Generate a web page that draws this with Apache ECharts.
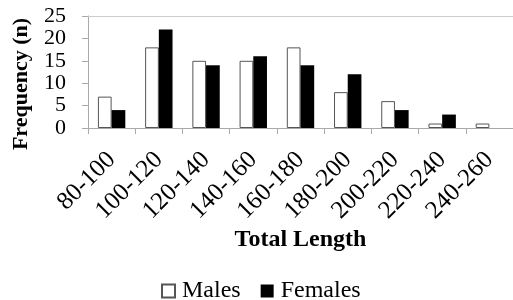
<!DOCTYPE html>
<html>
<head>
<meta charset="utf-8">
<script src="https://cdn.jsdelivr.net/npm/echarts@6/dist/echarts.min.js"></script>
<style>
    html, body { margin: 0; padding: 0; background: #fff; }
    #chart { width: 513px; height: 300px; }
</style>
</head>
<body>
<div id="chart"></div>
<script>
const lengthClasses = ['80-100', '100-120', '120-140', '140-160', '160-180', '180-200', '200-220', '220-240', '240-260'];
const males = [7, 18, 15, 15, 18, 8, 6, 1, 1];
const females = [4, 22, 14, 16, 14, 12, 4, 3, 0];
const yTicks = { min: 0, max: 25, interval: 5 };

const serif = '"Liberation Serif", "DejaVu Serif", serif';

const myChart = echarts.init(document.getElementById('chart'));

const option = {
    animation: false,
    textStyle: { fontFamily: serif, color: '#000' },
    grid: {
        left: 88,
        top: 16,
        width: 430,
        height: 112
    },
    legend: {
        left: 156,
        top: 274,
        icon: 'rect',
        itemWidth: 13,
        itemHeight: 13,
        itemGap: 20,
        selectedMode: false,
        textStyle: { fontFamily: serif, fontSize: 24, color: '#000', padding: [0, 0, 0, 2] },
        data: ['Males', 'Females']
    },
    xAxis: [
        {
            type: 'category',
            data: lengthClasses,
            name: 'Total Length',
            nameLocation: 'middle',
            nameGap: 100,
            nameTextStyle: { fontFamily: serif, fontSize: 24, fontWeight: 'bold', color: '#000' },
            axisLine: { lineStyle: { color: '#aaa', width: 1 } },
            axisTick: { show: true, length: 6, lineStyle: { color: '#aaa' } },
            axisLabel: {
                rotate: 45,
                interval: 0,
                margin: 28,
                fontFamily: serif,
                fontSize: 25,
                color: '#000'
            }
        },
        {
            // top border of the plot
            type: 'category',
            position: 'top',
            data: lengthClasses,
            axisLine: { lineStyle: { color: '#ccc', width: 1 } },
            axisTick: { show: false },
            axisLabel: { show: false }
        }
    ],
    yAxis: {
        type: 'value',
        min: yTicks.min,
        max: yTicks.max,
        interval: yTicks.interval,
        name: 'Frequency (n)',
        nameLocation: 'middle',
        nameGap: 56,
        nameTextStyle: {
            fontFamily: serif,
            fontSize: 22,
            fontWeight: 'bold',
            color: '#000',
            padding: [0, 24, 0, 0]
        },
        axisLine: { show: true, lineStyle: { color: '#aaa', width: 1 } },
        axisTick: { show: true, length: 6, lineStyle: { color: '#aaa' } },
        splitLine: { show: false },
        axisLabel: { margin: 22, fontFamily: serif, fontSize: 22, color: '#000' }
    },
    series: [
        {
            name: 'Males',
            type: 'bar',
            data: males,
            barGap: '0%',
            barCategoryGap: '42%',
            itemStyle: { color: '#fff', borderColor: '#555', borderWidth: 1 }
        },
        {
            name: 'Females',
            type: 'bar',
            data: females,
            itemStyle: { color: '#000' }
        }
    ]
};

myChart.setOption(option);
</script>
</body>
</html>
